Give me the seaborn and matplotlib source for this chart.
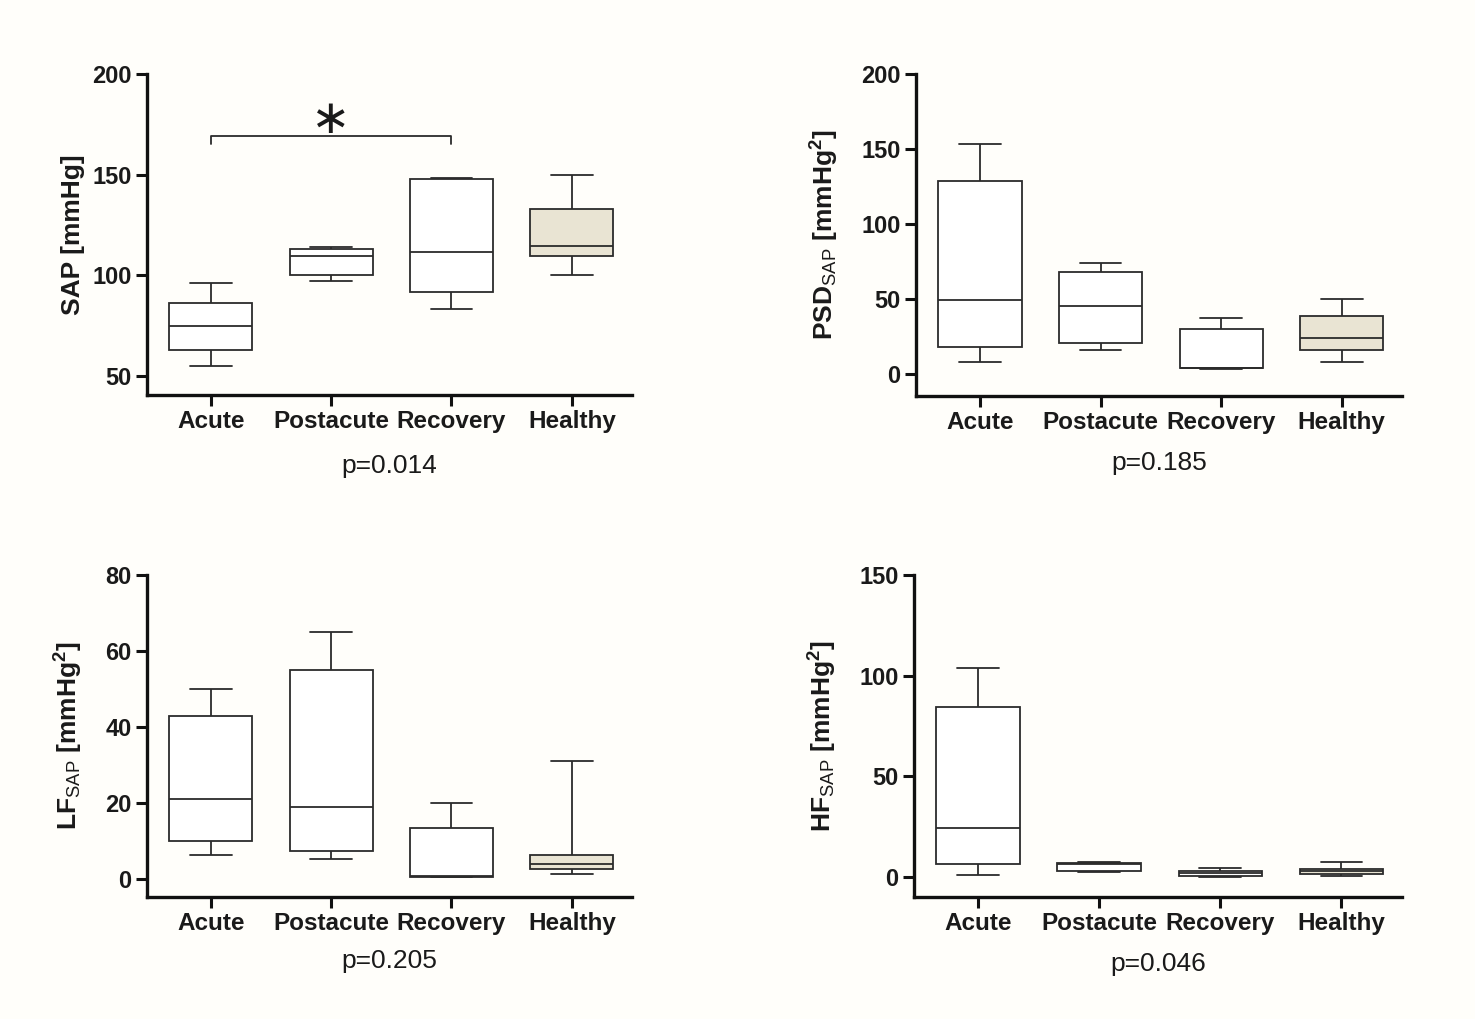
import pandas as pd
import numpy as np
import matplotlib
matplotlib.use("Agg")
import matplotlib.pyplot as plt
import seaborn as sns

# groupes et resume a 5 valeurs (min, q1, mediane, q3, max)
groups = ["Acute", "Postacute", "Recovery", "Healthy"]

sap = [[55, 63, 75, 86, 96],
       [97, 100, 109.5, 113, 114],
       [83, 91.5, 111.5, 148, 148.5],
       [100, 109.5, 114.5, 133, 150]]
psd = [[8, 17.5, 49, 128.5, 153.5],
       [15.5, 20.5, 45, 68, 73.5],
       [3, 3.5, 4, 29.5, 37],
       [7.5, 16, 24, 38.5, 50]]
lf = [[6.3, 10, 21, 43, 50],
      [5.3, 7.5, 19, 55, 65],
      [0.5, 0.5, 0.8, 13.4, 20],
      [1.3, 2.7, 4, 6.4, 31]]
hf = [[1, 6.5, 24.5, 84.5, 104],
      [2.3, 3, 6.5, 7, 7.3],
      [0, 0.3, 2, 3, 4.3],
      [0.5, 1.3, 3, 4, 7.4]]

p_values = ["p=0.014", "p=0.185", "p=0.205", "p=0.046"]
ylabels = ["SAP [mmHg]",
           r"PSD$_{\mathrm{SAP}}$ [mmHg$^{\mathbf{2}}$]",
           r"LF$_{\mathrm{SAP}}$ [mmHg$^{\mathbf{2}}$]",
           r"HF$_{\mathrm{SAP}}$ [mmHg$^{\mathbf{2}}$]"]
yticks = [[50, 100, 150, 200], [0, 50, 100, 150, 200], [0, 20, 40, 60, 80], [0, 50, 100, 150]]
ylims = [(40.5, 200), (-15, 200), (-4.7, 80), (-10, 150)]

sns.set_style("ticks")
plt.rcParams["font.family"] = ["Liberation Sans", "DejaVu Sans"]
plt.rcParams["mathtext.fontset"] = "custom"
plt.rcParams["mathtext.rm"] = "Liberation Sans"
plt.rcParams["mathtext.bf"] = "Liberation Sans:bold"
plt.rcParams["mathtext.it"] = "Liberation Sans:italic"

bg = "#fffefa"
palette = {"Acute": "white", "Postacute": "white", "Recovery": "white", "Healthy": "#ede6cf"}

fig = plt.figure(figsize=(14.75, 10.19), dpi=100, facecolor=bg)

# positions des axes en pixels (gauche, haut, droite, bas)
W, H = 1475, 1019
boxes_px = [(147, 74, 632, 395), (916, 74, 1402, 396), (147, 575, 632, 897), (914, 575, 1402, 897)]
ylab_x = [-0.128, -0.154, -0.128, -0.154]
p_y = [-0.221, -0.208, -0.199, -0.208]

for i, vals in enumerate([sap, psd, lf, hf]):
    l, t, r, b = boxes_px[i]
    ax = fig.add_axes([l / W, 1 - b / H, (r - l) / W, (b - t) / H])
    ax.set_facecolor(bg)

    df = pd.DataFrame({
        "group": np.repeat(groups, 5),
        "value": np.concatenate(vals),
    })
    sns.boxplot(data=df, x="group", y="value", hue="group", palette=palette,
                order=groups, whis=(0, 100), width=0.69, linecolor="#2b2b2b",
                linewidth=1.3, legend=False, ax=ax)

    ax.set_xlim(-0.53, 3.5)
    ax.set_ylim(*ylims[i])
    ax.set_yticks(yticks[i])
    sns.despine(ax=ax)
    for s in ["left", "bottom"]:
        ax.spines[s].set_linewidth(2.4)
        ax.spines[s].set_color("#111111")
    ax.tick_params(axis="both", length=8, width=2.2, color="#111111")
    ax.tick_params(axis="y", labelsize=17, pad=3)
    ax.tick_params(axis="x", labelsize=17.5, pad=3)
    for lab in ax.get_xticklabels() + ax.get_yticklabels():
        lab.set_fontweight("bold")
        lab.set_color("#1a1a1a")

    ax.set_xlabel("")
    ax.set_ylabel(ylabels[i], fontsize=19, fontweight="bold", color="#1a1a1a")
    ax.yaxis.set_label_coords(ylab_x[i], 0.5)
    ax.text(0.5, p_y[i], p_values[i], transform=ax.transAxes, ha="center",
            va="center", fontsize=19, color="#1a1a1a")

    if i == 0:
        # crochet de significativite Acute vs Recovery
        ax.plot([0, 0, 2, 2], [165, 169, 169, 165], color="#2b2b2b", lw=1.3)
        ax.text(1, 177, "\u2217", ha="center", va="center", fontsize=34,
                color="#1a1a1a", family=["DejaVu Sans"])

plt.savefig("out.png", dpi=100, facecolor=bg)
